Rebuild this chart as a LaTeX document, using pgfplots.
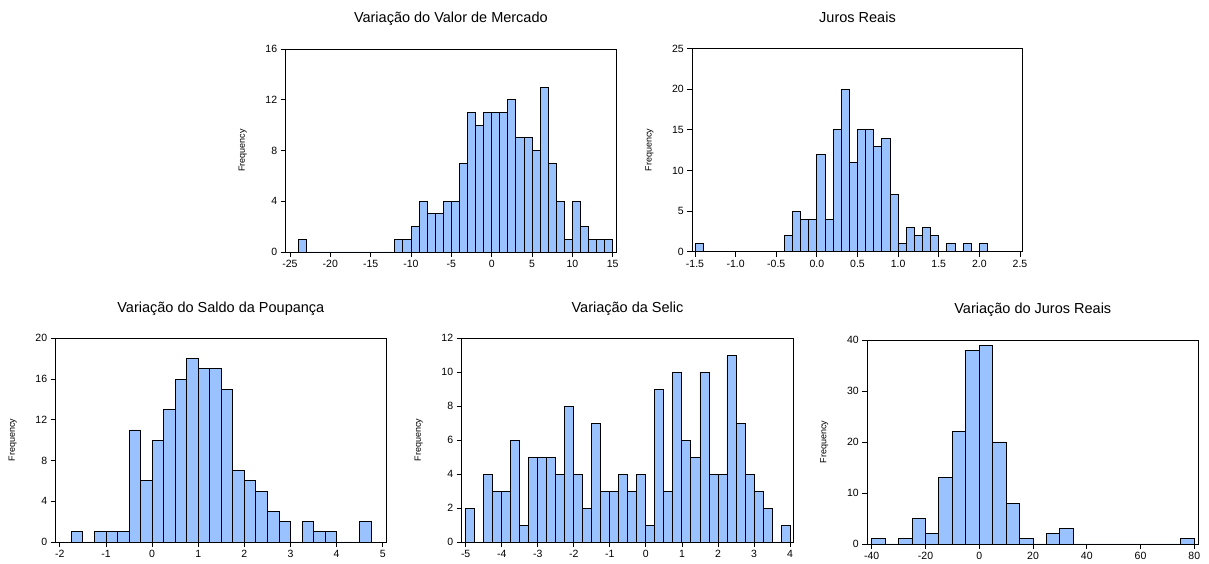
\documentclass[border=0pt]{standalone}
\usepackage{pgfplots}
\pgfplotsset{compat=1.18}
\usepackage{fontspec}
\setmainfont{Liberation Sans}
\definecolor{barblue}{RGB}{153,194,255}
\pgfplotsset{
  hist/.style={
    scale only axis, anchor=south west,
    ymin=0,
    axis line style={line width=0.9pt, black},
    every tick/.style={line width=0.8pt, black},
    tick align=outside, major tick length=5pt,
    xtick pos=left, ytick pos=left,
    ticklabel style={font=\fontsize{10.5}{12}\selectfont},
    /pgf/number format/assume math mode=true,
    title style={font=\fontsize{14.5}{16}\selectfont, at={(axis description cs:0.5,1)}, anchor=base, yshift=20pt},
    ylabel={Frequency},
    ylabel style={font=\fontsize{9}{10}\selectfont, at={(axis description cs:-0.13,0.5)}, anchor=center},
  },
  bars/.style={ybar interval, fill=barblue, draw=black, line width=0.9pt},
}
\begin{document}
\begin{tikzpicture}
\useasboundingbox (0,0) rectangle (1209pt,564pt);
% Panel 1
\begin{axis}[hist, at={(285.7pt,312pt)}, width=330.3pt, height=203pt,
  title={Variação do Valor de Mercado},
  xmin=-25.53, xmax=15.41, ymax=16, ytick={0,4,8,12,16},
  xtick={-25,-20,-15,-10,-5,0,5,10,15},
  xticklabels={-25,-20,-15,-10,-5,0,5,10,15}]
\addplot[bars] coordinates {(-24,1) (-23,0) (-12,1) (-11,1) (-10,2) (-9,4) (-8,3) (-7,3) (-6,4) (-5,4) (-4,7) (-3,11) (-2,10) (-1,11) (0,11) (1,11) (2,12) (3,9) (4,9) (5,8) (6,13) (7,7) (8,4) (9,1) (10,4) (11,2) (12,1) (13,1) (14,1) (15,0)};
\end{axis}
% Panel 2
\begin{axis}[hist, at={(692.3pt,312.3pt)}, width=330.4pt, height=203pt,
  title={Juros Reais},
  xmin=-1.533, xmax=2.533, ymax=25, ytick={0,5,10,15,20,25},
  xtick={-1.5,-1,-0.5,0,0.5,1,1.5,2,2.5},
  xticklabels={-1.5,-1.0,-0.5,0.0,0.5,1.0,1.5,2.0,2.5}]
\addplot[bars] coordinates {(-1.5,1) (-1.4,0) (-0.4,2) (-0.3,5) (-0.2,4) (-0.1,4) (0.0,12) (0.1,4) (0.2,15) (0.3,20) (0.4,11) (0.5,15) (0.6,15) (0.7,13) (0.8,14) (0.9,7) (1.0,1) (1.1,3) (1.2,2) (1.3,3) (1.4,2) (1.5,0) (1.6,1) (1.7,0) (1.8,1) (1.9,0) (2.0,1) (2.1,0)};
\end{axis}
% Panel 3
\begin{axis}[hist, at={(55.7pt,22pt)}, width=330.3pt, height=203.7pt,
  title={Variação do Saldo da Poupança},
  xmin=-2.09, xmax=5.07, ymax=20, ytick={0,4,8,12,16,20},
  xtick={-2,-1,0,1,2,3,4,5},
  xticklabels={-2,-1,0,1,2,3,4,5}]
\addplot[bars] coordinates {(-1.75,1) (-1.5,0) (-1.25,1) (-1,1) (-0.75,1) (-0.5,11) (-0.25,6) (0,10) (0.25,13) (0.5,16) (0.75,18) (1,17) (1.25,17) (1.5,15) (1.75,7) (2,6) (2.25,5) (2.5,3) (2.75,2) (3,0) (3.25,2) (3.5,1) (3.75,1) (4,0) (4.5,2) (4.75,0)};
\end{axis}
% Panel 4
\begin{axis}[hist, at={(461.7pt,22pt)}, width=331.6pt, height=203.7pt,
  title={Variação da Selic},
  xmin=-5.11, xmax=4.09, ymax=12, ytick={0,2,4,6,8,10,12},
  xtick={-5,-4,-3,-2,-1,0,1,2,3,4},
  xticklabels={-5,-4,-3,-2,-1,0,1,2,3,4}]
\addplot[bars] coordinates {(-5,2) (-4.75,0) (-4.5,4) (-4.25,3) (-4,3) (-3.75,6) (-3.5,1) (-3.25,5) (-3,5) (-2.75,5) (-2.5,4) (-2.25,8) (-2,4) (-1.75,2) (-1.5,7) (-1.25,3) (-1,3) (-0.75,4) (-0.5,3) (-0.25,4) (0,1) (0.25,9) (0.5,3) (0.75,10) (1,6) (1.25,5) (1.5,10) (1.75,4) (2,4) (2.25,11) (2.5,7) (2.75,4) (3,3) (3.25,2) (3.5,0) (3.75,1) (4,0)};
\end{axis}
% Panel 5
\begin{axis}[hist, at={(867.3pt,20pt)}, width=331pt, height=204pt,
  title={Variação do Juros Reais},
  xmin=-41.65, xmax=81.5, ymax=40, ytick={0,10,20,30,40},
  xtick={-40,-20,0,20,40,60,80},
  xticklabels={-40,-20,0,20,40,60,80}]
\addplot[bars] coordinates {(-40,1) (-35,0) (-30,1) (-25,5) (-20,2) (-15,13) (-10,22) (-5,38) (0,39) (5,20) (10,8) (15,1) (20,0) (25,2) (30,3) (35,0) (75,1) (80,0)};
\end{axis}
\end{tikzpicture}
\end{document}
